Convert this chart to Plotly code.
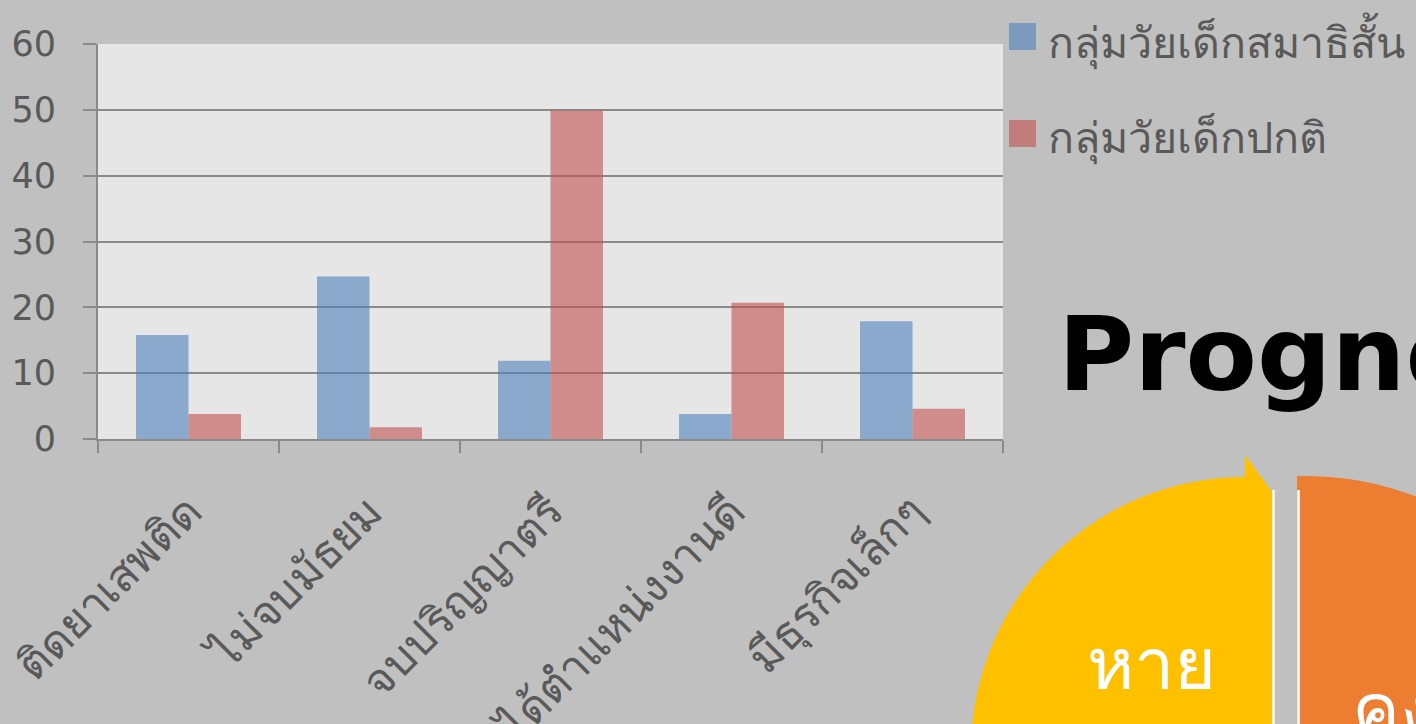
import numpy as np
import plotly.graph_objects as go

# ---- data ----
categories = ["ติดยาเสพติด", "ไม่จบมัธยม", "จบปริญญาตรี", "ได้ตำแหน่งงานดี", "มีธุรกิจเล็กๆ"]
adhd_values = [15.8, 24.7, 11.9, 3.8, 17.9]
normal_values = [3.8, 1.8, 49.9, 20.7, 4.6]
series_names = ["กลุ่มวัยเด็กสมาธิสั้น", "กลุ่มวัยเด็กปกติ"]
y_ticks = [0, 10, 20, 30, 40, 50, 60]
title_text = "Prognosis"
cycle_labels = ["หาย", "คงอยู่"]

# ---- style ----
W, H = 1416, 724
ML, MR, MT, MB = 98, 413, 44, 285
PW, PH = W - ML - MR, H - MT - MB
BLUE = "rgba(79,129,189,0.6)"
RED = "rgba(192,80,77,0.6)"
GRID = "#8a8a8a"
TXT = "#595959"
FONT = "Tahoma, DejaVu Sans, Noto Sans, sans-serif"


def px(x):
    return (x - ML) / PW


def py(y):
    return (H - MB - y) / PH


fig = go.Figure()
fig.add_trace(go.Bar(x=categories, y=adhd_values, name=series_names[0],
                     marker=dict(color=BLUE, line=dict(width=0)), showlegend=False))
fig.add_trace(go.Bar(x=categories, y=normal_values, name=series_names[1],
                     marker=dict(color=RED, line=dict(width=0)), showlegend=False))

shapes = []
annotations = []

# manual legend
legend_y = [36.5, 133.5]
for i, (name, col) in enumerate(zip(series_names, [BLUE, RED])):
    cy = legend_y[i]
    shapes.append(dict(type="rect", xref="paper", yref="paper",
                       x0=px(1009), x1=px(1036), y0=py(cy + 13.5), y1=py(cy - 13.5),
                       fillcolor=col, line=dict(width=0)))
    annotations.append(dict(text=name, xref="paper", yref="paper", x=px(1046), y=py(cy + 5),
                            xanchor="left", yanchor="middle", showarrow=False,
                            font=dict(size=43, color=TXT, family=FONT)))

# big title
annotations.append(dict(text=title_text, xref="paper", yref="paper", x=px(1056), y=py(354),
                        xanchor="left", yanchor="middle", showarrow=False,
                        font=dict(size=104, color="black", family="DejaVu Sans", weight="bold")))


def arc_pts(cx, cy, r, t0, t1, n=60):
    t = np.radians(np.linspace(t0, t1, n))
    return [(cx + r * np.cos(a), cy - r * np.sin(a)) for a in t]


def path_from(pts):
    s = "M " + " L ".join(f"{px(x):.5f},{py(y):.5f}" for x, y in pts) + " Z"
    return s


# yellow segment with arrow head
ypts = [(1272, 740), (1272, 492), (1245, 455), (1245, 477)]
ypts += arc_pts(1245, 751, 274, 90, 186)
shapes.append(dict(type="path", xref="paper", yref="paper", path=path_from(ypts),
                   fillcolor="#ffc000", line=dict(width=0), layer="above"))
shapes.append(dict(type="line", xref="paper", yref="paper", x0=px(1273.5), x1=px(1273.5),
                   y0=py(490), y1=py(740), line=dict(color="white", width=2.5)))

# orange segment
opts = [(1297, 740), (1297, 476)]
opts += arc_pts(1305, 786, 310, 91.5, 40)
opts += [(1430, 740)]
shapes.append(dict(type="path", xref="paper", yref="paper", path=path_from(opts),
                   fillcolor="#ed7d31", line=dict(width=0), layer="above"))
shapes.append(dict(type="line", xref="paper", yref="paper", x0=px(1298.5), x1=px(1298.5),
                   y0=py(490), y1=py(740), line=dict(color="white", width=2.5)))

annotations.append(dict(text=cycle_labels[0], xref="paper", yref="paper", x=px(1151), y=py(664),
                        xanchor="center", yanchor="middle", showarrow=False,
                        font=dict(size=72, color="white", family=FONT)))
annotations.append(dict(text=cycle_labels[1], xref="paper", yref="paper", x=px(1350), y=py(710),
                        xanchor="left", yanchor="middle", showarrow=False,
                        font=dict(size=72, color="white", family=FONT)))

fig.update_layout(
    width=W, height=H,
    margin=dict(l=ML, r=MR, t=MT, b=MB, pad=0, autoexpand=False),
    paper_bgcolor="#c0c0c0",
    plot_bgcolor="#e6e6e6",
    barmode="group",
    bargap=0.42,
    bargroupgap=0,
    showlegend=False,
    shapes=shapes,
    annotations=annotations,
    font=dict(family=FONT, color=TXT),
)
fig.update_xaxes(
    type="category", tickson="boundaries", ticks="outside", ticklen=12, tickwidth=2,
    tickcolor=GRID, showline=True, linecolor=GRID, linewidth=2, showgrid=False,
    tickangle=-45, tickfont=dict(size=45, color=TXT, family=FONT), ticklabelstandoff=26,
    automargin=False,
)
fig.update_yaxes(
    range=[0, 60], tickvals=y_ticks, ticks="outside", ticklen=13, tickwidth=2,
    tickcolor=GRID, showline=True, linecolor=GRID, linewidth=2,
    showgrid=True, gridcolor=GRID, gridwidth=2, zeroline=False,
    tickfont=dict(size=35, color=TXT, family="DejaVu Sans"), ticklabelstandoff=20,
    automargin=False,
)

fig.write_html(
    "out.html",
    config={"displayModeBar": False},
    post_script="document.body.style.margin='0';document.body.style.overflow='hidden';",
)
